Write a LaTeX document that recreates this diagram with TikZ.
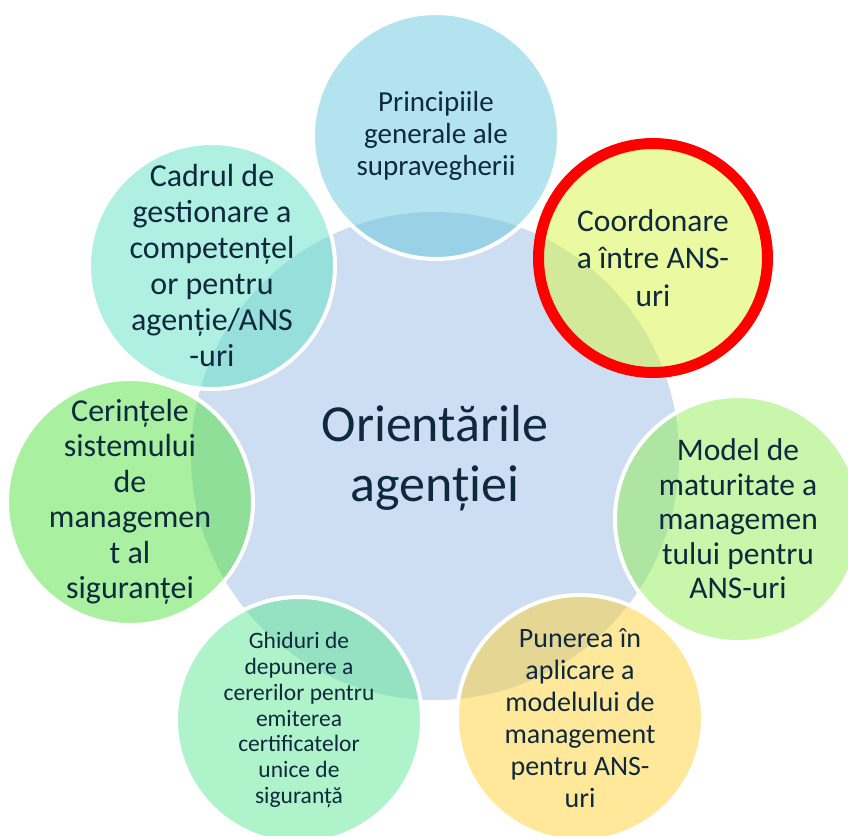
\documentclass[tikz,border=0pt]{standalone}
\usepackage{fontspec}
\setmainfont{Carlito}
\definecolor{txt}{RGB}{14,40,62}
\definecolor{centru}{RGB}{205,221,242}
\definecolor{cprinc}{RGB}{103,199,221}
\definecolor{ccoord}{RGB}{215,245,65}
\definecolor{cmodel}{RGB}{145,237,85}
\definecolor{cpunere}{RGB}{255,209,53}
\definecolor{cghid}{RGB}{93,231,147}
\definecolor{ccerinte}{RGB}{83,225,65}
\definecolor{ccadrul}{RGB}{97,225,197}
\begin{document}
\begin{tikzpicture}[x=1pt,y=-1pt,
  bubble/.style={circle,draw=white,line width=4pt,minimum size=246pt,inner sep=0pt,fill opacity=0.5},
  marked/.style={bubble,draw=red,line width=11pt,minimum size=229pt},
  words/.style={text=txt,text opacity=1,fill opacity=1,align=center,inner sep=0pt}]

\useasboundingbox (0,0) rectangle (848,835);

\node[circle,fill=centru,minimum size=488pt,inner sep=0pt] (centru) at (435,456) {};
\node[words,font=\fontsize{52}{60}\selectfont] (titlu) at (435,458) {Orientările\\agenției};

\node[bubble,fill=cprinc,label={[words,font=\fontsize{29}{32}\selectfont]center:{Principiile\\generale ale\\supravegherii}}] (princ) at (436,136) {};
\node[marked,fill=ccoord,label={[words,font=\fontsize{31.5}{37.5}\selectfont]center:{Coordonare\\a între ANS-\\uri}}] (coord) at (653,258) {};
\node[bubble,fill=cmodel,label={[words,font=\fontsize{31.5}{34.5}\selectfont]center:{Model de\\maturitate a\\managemen\\tului pentru\\ANS-uri}}] (model) at (738,519) {};
\node[bubble,fill=cpunere,label={[words,font=\fontsize{28}{32}\selectfont]center:{Punerea în\\aplicare a\\modelului de\\management\\pentru ANS-\\uri}}] (punere) at (580,718) {};
\node[bubble,fill=cghid,label={[words,font=\fontsize{23.5}{25.8}\selectfont]center:{Ghiduri de\\depunere a\\cererilor pentru\\emiterea\\certificatelor\\unice de\\siguranță}}] (ghid) at (299,720) {};
\node[bubble,fill=ccerinte,label={[words,font=\fontsize{32}{35.5}\selectfont]center:{Cerințele\\sistemului\\de\\managemen\\t al\\siguranței}}] (cerinte) at (130,502) {};
\node[bubble,fill=ccadrul,label={[words,font=\fontsize{32}{36}\selectfont]center:{Cadrul de\\gestionare a\\competențel\\or pentru\\agenție/ANS\\-uri}}] (cadrul) at (212,266) {};
\end{tikzpicture}
\end{document}
